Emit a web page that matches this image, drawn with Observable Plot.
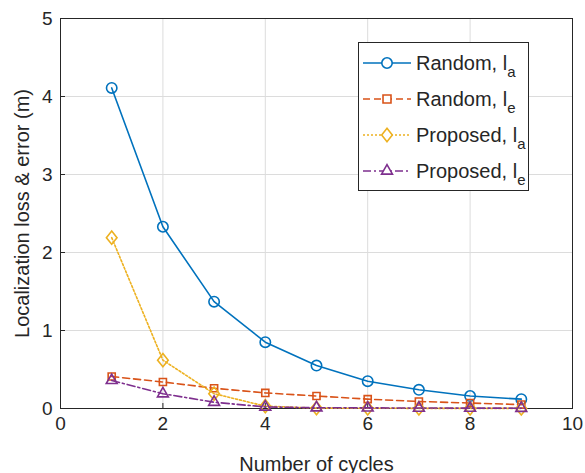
<!DOCTYPE html>
<html><head><meta charset="utf-8">
<script src="https://cdn.jsdelivr.net/npm/d3@7"></script>
<script src="https://cdn.jsdelivr.net/npm/@observablehq/plot@0.6"></script>
<style>
body{margin:0;background:#fff;font-family:"Liberation Sans",Arial,sans-serif;}
#wrap{position:relative;width:585px;height:473px;}
#legend{position:absolute;left:358px;top:42px;width:169px;height:147px;border:1px solid #262626;background:#fff;}
#chart svg g[aria-label$="tick label"] text{font-size:19px;}
#chart svg g[aria-label$="axis label"] text{font-size:20px;}
</style></head>
<body><div id="wrap"><div id="chart"></div><div id="legend"></div></div>
<script>
const cycles = [1,2,3,4,5,6,7,8,9];
const randomLa = [4.11,2.33,1.37,0.85,0.55,0.35,0.24,0.16,0.12];
const randomLe = [0.41,0.34,0.26,0.20,0.16,0.12,0.09,0.07,0.05];
const proposedLa = [2.19,0.62,0.19,0.03,0.005,0.003,0.002,0.002,0.001];
const proposedLe = [0.36,0.19,0.08,0.02,0.01,0.008,0.006,0.005,0.004];
const xTicks = [0,2,4,6,8,10];
const yTicks = [0,1,2,3,4,5];

// MATLAB-like diamond (a little taller than wide)
const matlabDiamond = {
  draw(context, size) {
    const h = Math.sqrt(size) * 0.72, w = h * 0.8;
    context.moveTo(0, -h); context.lineTo(w, 0); context.lineTo(0, h); context.lineTo(-w, 0); context.closePath();
  }
};

const seriesDefs = [
  {name:"Random", sub:"a", values:randomLa, color:"#0072BD", symbol:"circle", dash:null},
  {name:"Random", sub:"e", values:randomLe, color:"#D95319", symbol:"square", dash:"7,4"},
  {name:"Proposed", sub:"a", values:proposedLa, color:"#EDB120", symbol:"diamond", dash:"2,2"},
  {name:"Proposed", sub:"e", values:proposedLe, color:"#7E2F8E", symbol:"triangle", dash:"8,3,2,3"}
];
const symbolMap = {circle:d3.symbolCircle, square:d3.symbolSquare2, diamond:matlabDiamond, triangle:d3.symbolTriangle2};

const marks = [
  Plot.gridX(xTicks, {stroke:"#dcdcdc", strokeOpacity:1}),
  Plot.gridY(yTicks, {stroke:"#dcdcdc", strokeOpacity:1}),
  Plot.frame({stroke:"#262626", strokeWidth:1}),
  Plot.axisX({ticks:xTicks, tickSize:-5, tickPadding:13, tickFormat:"d", color:"#262626", label:"Number of cycles", labelAnchor:"center", labelOffset:62, labelArrow:"none"}),
  Plot.axisY({ticks:yTicks, tickSize:-5, tickPadding:13, tickFormat:"d", color:"#262626", label:"Localization loss & error (m)", labelAnchor:"center", labelOffset:46, labelArrow:"none"})
];
for (const s of seriesDefs) {
  const data = cycles.map((c,i)=>({x:c, y:s.values[i]}));
  marks.push(Plot.line(data, {x:"x", y:"y", stroke:s.color, strokeWidth:1.6, strokeDasharray:s.dash}));
  marks.push(Plot.dot(data, {x:"x", y:"y", stroke:s.color, fill:"none", strokeWidth:1.6, symbol:symbolMap[s.symbol], r: s.symbol==="square"?4.5:5.2}));
}

const chart = Plot.plot({
  width:585, height:473,
  marginLeft:60, marginRight:13, marginTop:18, marginBottom:65,
  x:{domain:[0,10]},
  y:{domain:[0,5]},
  style:{fontFamily:"'Liberation Sans',Arial,sans-serif", fontSize:"19px", color:"#262626", background:"white"},
  marks
});
document.getElementById("chart").appendChild(chart);

// legend
const leg = d3.select("#legend").append("svg").attr("width",169).attr("height",147);
seriesDefs.forEach((s,i)=>{
  const g = leg.append("g").attr("transform",`translate(0,${20+i*36})`);
  g.append("line").attr("x1",4).attr("x2",52).attr("y1",0).attr("y2",0)
    .attr("stroke",s.color).attr("stroke-width",1.6).attr("stroke-dasharray",s.dash);
  const size = s.symbol==="square" ? 81 : 85;
  g.append("path").attr("transform","translate(28,0)").attr("d",d3.symbol(symbolMap[s.symbol],size)())
    .attr("fill","white").attr("stroke",s.color).attr("stroke-width",1.6);
  const t = g.append("text").attr("x",57).attr("y",7).attr("font-size",20).attr("fill","#262626");
  t.append("tspan").text(s.name+", l");
  t.append("tspan").attr("font-size",15).attr("dy",7).text(s.sub);
});
</script></body></html>
